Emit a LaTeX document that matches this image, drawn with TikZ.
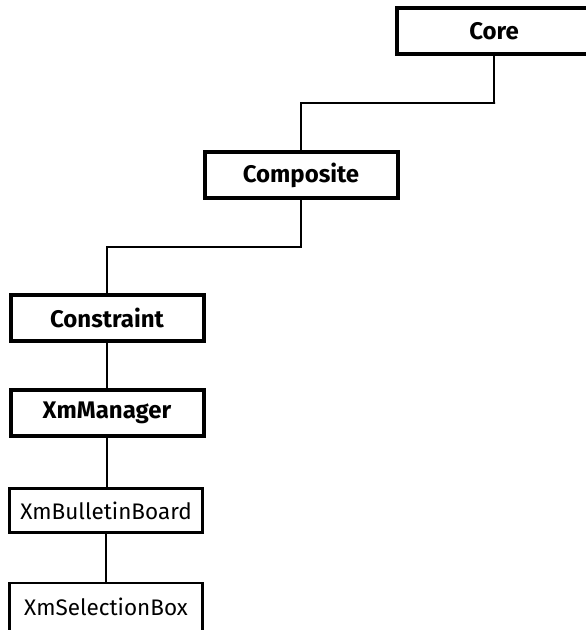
\documentclass[tikz,border=0pt]{standalone}
\usepackage{fontspec}
\setmainfont{Fira Sans}
\begin{document}
\begin{tikzpicture}[x=1pt,y=-1pt,
  classbox/.style={draw, fill=white, inner sep=0pt, minimum width=193pt},
  heavy/.style={classbox, line width=4pt, minimum height=46pt, font=\fontsize{24}{28}\selectfont\bfseries},
  light/.style={classbox, line width=2.4pt, minimum height=44pt, font=\fontsize{22.5}{27}\selectfont},
  link/.style={line width=2.5pt}]
  \useasboundingbox (0,0) rectangle (586,630);
  \clip (0,0) rectangle (586,630);

  % bend points of the stepped connectors
  \coordinate (k1) at (495,103);
  \coordinate (k2) at (301,247);

  \node[heavy, minimum width=194pt] (core) at (494,31) {Core};
  \node[heavy] (comp) at (301,175) {Composite};
  \node[heavy] (cons) at (107,317.5) {Constraint};
  \node[heavy] (mgr) at (107,412.5) {XmManager};
  \node[light] (bb) at (106,510.5) {XmBulletinBoard};
  \node[light, minimum height=48pt] (sel) at (106,607) {XmSelectionBox};

  \draw[link] (core.south) |- (k1) -| (comp.north);
  \draw[link] (comp.south) |- (k2) -| (cons.north);
  \draw[link] (cons.south) -- (mgr.north);
  \draw[link] (mgr.south) -- (mgr.south |- bb.north);
  \draw[link] (bb.south) -- (bb.south |- sel.north);
\end{tikzpicture}
\end{document}
